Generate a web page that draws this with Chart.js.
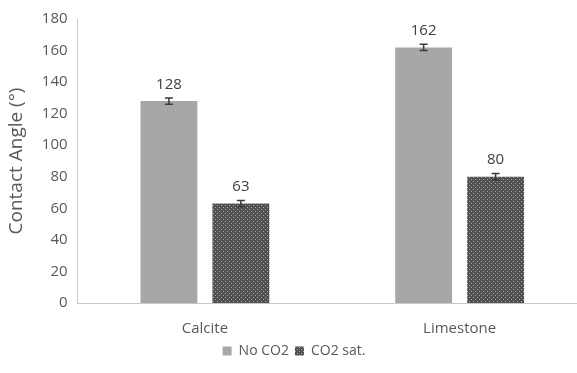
<!DOCTYPE html>
<html>
<head>
<meta charset="utf-8">
<script src="https://cdn.jsdelivr.net/npm/chart.js@4/dist/chart.umd.min.js"></script>
<style>
  html, body { margin: 0; padding: 0; background: #fff; overflow: hidden; }
  #wrap { width: 587px; height: 373px; }
</style>
</head>
<body>
<div id="wrap"><canvas id="chart"></canvas></div>
<script>
// chart data
var categories = ['Calcite', 'Limestone'];
var seriesNames = ['No CO2', 'CO2 sat.'];
var noCo2 = [128, 162];
var co2Sat = [63, 80];
var noCo2Err = [2, 2];
var co2SatErr = [2, 2];
var yTicks = [0, 20, 40, 60, 80, 100, 120, 140, 160, 180];

// small dotted texture for the CO2 sat. bars
function makePattern() {
    var c = document.createElement('canvas');
    c.width = 4;
    c.height = 4;
    var g = c.getContext('2d');
    g.fillStyle = '#4f5051';
    g.fillRect(0, 0, 4, 4);
    g.fillStyle = '#a9aaab';
    g.fillRect(1, 1, 1, 1);
    g.fillRect(3, 3, 1, 1);
    return g.createPattern(c, 'repeat');
}
var dotted = makePattern();

// error bars + value labels
var errorBarPlugin = {
    id: 'errorBars',
    afterDatasetsDraw: function (chart) {
        var ctx = chart.ctx;
        var y = chart.scales.y;
        var errs = [noCo2Err, co2SatErr];
        chart.data.datasets.forEach(function (ds, di) {
            var meta = chart.getDatasetMeta(di);
            meta.data.forEach(function (bar, i) {
                var v = ds.data[i];
                var e = errs[di][i];
                var top = y.getPixelForValue(v + e);
                var bot = y.getPixelForValue(v - e);
                ctx.save();
                ctx.strokeStyle = '#3a3a3a';
                ctx.lineWidth = 1.5;
                ctx.beginPath();
                ctx.moveTo(bar.x, top);
                ctx.lineTo(bar.x, bot);
                ctx.moveTo(bar.x - 4, top);
                ctx.lineTo(bar.x + 4, top);
                ctx.moveTo(bar.x - 4, bot);
                ctx.lineTo(bar.x + 4, bot);
                ctx.stroke();
                ctx.fillStyle = '#404040';
                ctx.font = '15px "Open Sans", sans-serif';
                ctx.textAlign = 'center';
                ctx.textBaseline = 'bottom';
                ctx.fillText(String(v), bar.x, top - 6);
                ctx.restore();
            });
        });
    }
};

new Chart(document.getElementById('chart'), {
    type: 'bar',
    data: {
        labels: categories,
        datasets: [{
            label: seriesNames[0],
            data: noCo2,
            backgroundColor: '#a5a7a8'
        }, {
            label: seriesNames[1],
            data: co2Sat,
            backgroundColor: dotted
        }]
    },
    options: {
        responsive: true,
        maintainAspectRatio: false,
        animation: false,
        categoryPercentage: 0.565,
        barPercentage: 0.79,
        layout: { padding: { top: 6, right: 0, left: 1, bottom: 5 } },
        plugins: {
            legend: {
                position: 'bottom',
                labels: {
                    boxWidth: 9,
                    boxHeight: 9,
                    color: '#595959',
                    font: { size: 14, family: '"Open Sans", sans-serif' },
                    padding: 6
                }
            },
            tooltip: { enabled: false }
        },
        scales: {
            x: {
                grid: { display: false, drawTicks: false },
                border: { color: '#c8c8c8' },
                ticks: {
                    color: '#595959',
                    padding: 17,
                    font: { size: 15, family: '"Open Sans", sans-serif' }
                },
                afterFit: function (axis) {
                    axis.height = 35;
                }
            },
            y: {
                min: 0,
                max: 180,
                afterBuildTicks: function (axis) {
                    axis.ticks = yTicks.map(function (v) { return { value: v }; });
                },
                grid: { display: false, drawTicks: false },
                border: { color: '#c8c8c8' },
                ticks: {
                    color: '#595959',
                    padding: 10,
                    font: { size: 15, family: '"Open Sans", sans-serif' }
                },
                title: {
                    display: true,
                    text: 'Contact Angle (°)',
                    color: '#595959',
                    padding: { bottom: 4 },
                    font: { size: 19, family: '"Open Sans", sans-serif' }
                }
            }
        }
    },
    plugins: [errorBarPlugin]
});
</script>
</body>
</html>
